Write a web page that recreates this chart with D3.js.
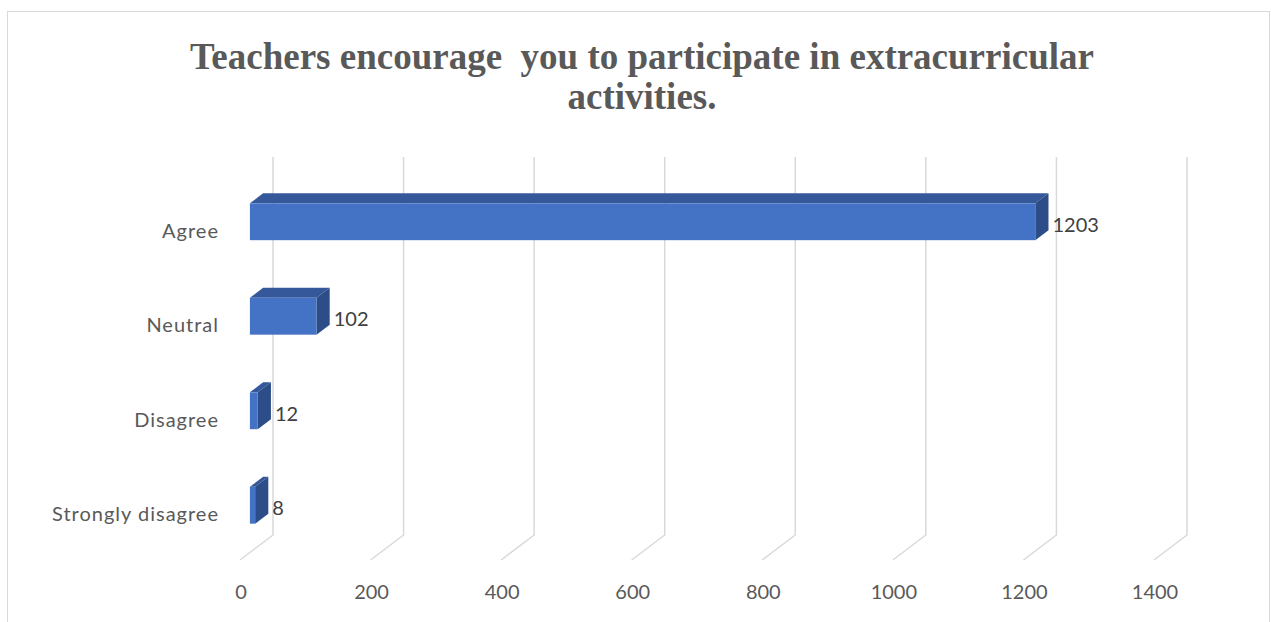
<!DOCTYPE html>
<html><head><meta charset="utf-8">
<script src="https://cdn.jsdelivr.net/npm/d3@7"></script>
<style>body{margin:0;background:#fff}svg{display:block}</style>
</head><body>
<script>
const titleLines = ["Teachers encourage  you to participate in extracurricular", "activities."];
const categories = ["Agree", "Neutral", "Disagree", "Strongly disagree"];
const values = [1203, 102, 12, 8];
const tickValues = [0, 200, 400, 600, 800, 1000, 1200, 1400];

const W = 1271, H = 622;
const svg = d3.select("body").append("svg").attr("width", W).attr("height", H);

// chart border
svg.append("rect").attr("x", 7.5).attr("y", 11.5).attr("width", 1262).attr("height", 640)
  .attr("fill", "none").attr("stroke", "#d9d9d9").attr("stroke-width", 1);

// title
svg.append("text").attr("x", 642).attr("y", 69).attr("text-anchor", "middle")
  .attr("font-family", "Liberation Serif, Times New Roman, serif").attr("font-weight", "bold")
  .attr("font-size", 37).attr("fill", "#595959")
  .selectAll("tspan").data(titleLines).join("tspan")
  .attr("x", 642).attr("dy", (d, i) => i === 0 ? 0 : 40).attr("xml:space", "preserve").text(d => d);

// 3D geometry
const DX = 33, DY = 25; // full depth offset (front floor -> back wall)
const x = d3.scaleLinear().domain([0, 1400]).range([240, 1154]);
const y = d3.scaleBand().domain(categories).range([182, 560]).paddingInner(0.61).paddingOuter(0.305);
const gridTop = 157, floorFront = 560;

// gridlines: back wall vertical + floor diagonal
const grid = svg.append("g").attr("stroke", "#d9d9d9").attr("stroke-width", 1.5).attr("fill", "none");
tickValues.forEach(t => {
  const xb = x(t) + DX;
  grid.append("path").attr("d", `M${xb},${gridTop}L${xb},${floorFront - DY}L${x(t)},${floorFront}`);
});

const font = "Lato, Open Sans, sans-serif";
// tick labels
svg.append("g").selectAll("text").data(tickValues).join("text")
  .attr("x", d => x(d) + 1).attr("y", 599).attr("text-anchor", "middle")
  .attr("font-family", font).attr("font-size", 20).attr("fill", "#595959")
  .text(d => d);

// category labels
svg.append("g").selectAll("text").data(categories).join("text")
  .attr("x", 219).attr("y", d => y(d) + y.bandwidth() / 2 + 7.5 + 1).attr("text-anchor", "end")
  .attr("font-family", font).attr("font-size", 20).attr("letter-spacing", 1).attr("fill", "#595959")
  .text(d => d);

// bars
const f1 = 0.3, f2 = 0.7;
const bdx = (f2 - f1) * DX, bdy = (f2 - f1) * DY;
const bars = svg.append("g");
categories.forEach((c, i) => {
  const v = values[i];
  const x0 = x(0) + f1 * DX, x1 = x(v) + f1 * DX;
  const yt = y(c) - f1 * DY, yb = yt + y.bandwidth();
  bars.append("path").attr("fill", "#34589a")
    .attr("d", `M${x0},${yt}L${x0 + bdx},${yt - bdy}L${x1 + bdx},${yt - bdy}L${x1},${yt}Z`);
  bars.append("path").attr("fill", "#2c4d87")
    .attr("d", `M${x1},${yt}L${x1 + bdx},${yt - bdy}L${x1 + bdx},${yb - bdy}L${x1},${yb}Z`);
  bars.append("rect").attr("x", x0).attr("y", yt).attr("width", x1 - x0).attr("height", yb - yt).attr("fill", "#4472c4");
  svg.append("text").attr("x", x1 + bdx + 4).attr("y", (yt + yb) / 2 + 10)
    .attr("font-family", font).attr("font-size", 20).attr("fill", "#404040")
    .text(v);
});
</script>
</body></html>
